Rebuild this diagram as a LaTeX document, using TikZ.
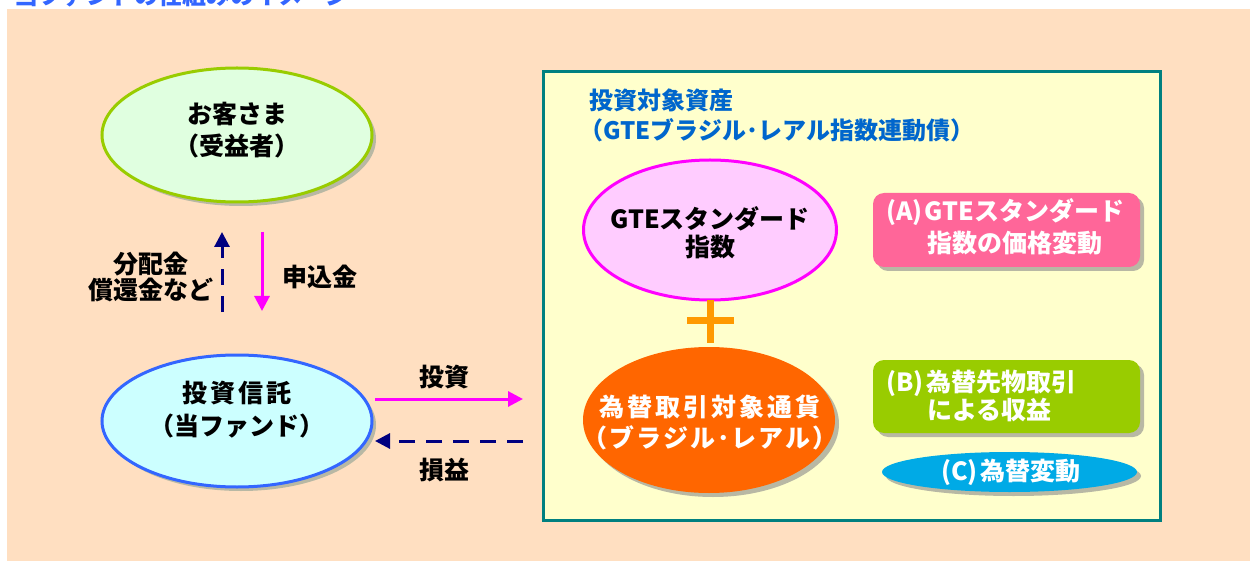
\documentclass[tikz,border=0pt]{standalone}
\usepackage{fontspec}
\setmainfont{Noto Sans CJK JP}
\usetikzlibrary{shapes.geometric,shadows,arrows.meta}
\definecolor{peach}{RGB}{255,223,193}
\definecolor{paleyellow}{RGB}{255,255,204}
\definecolor{framec}{RGB}{0,128,128}
\definecolor{custfill}{RGB}{224,255,224}
\definecolor{custline}{RGB}{153,204,0}
\definecolor{fundfill}{RGB}{204,255,255}
\definecolor{fundline}{RGB}{51,102,255}
\definecolor{gtefill}{RGB}{255,204,255}
\definecolor{gteline}{RGB}{255,0,255}
\definecolor{orangefill}{RGB}{255,102,0}
\definecolor{plusc}{RGB}{255,153,0}
\definecolor{boxA}{RGB}{255,102,153}
\definecolor{boxB}{RGB}{153,204,0}
\definecolor{boxC}{RGB}{0,170,230}
\definecolor{headblue}{RGB}{0,102,204}
\definecolor{titleblue}{RGB}{51,102,255}
\definecolor{navyc}{RGB}{0,0,128}
\definecolor{shadowc}{RGB}{184,184,164}
\newcommand{\spaced}[2]{{\addfontfeature{LetterSpace=#1}#2}}
\begin{document}
\begin{tikzpicture}[x=1pt,y=-1pt,
  shad/.style={drop shadow={shadow xshift=4pt,shadow yshift=-4pt,fill=shadowc,opacity=1}},
  ell/.style={ellipse,inner sep=0pt,line width=3pt},
  txt/.style={font=\bfseries\fontsize{25}{31}\selectfont,align=center,inner sep=0pt},
  wtxt/.style={txt,text=white},
  ltxt/.style={font=\bfseries\fontsize{25}{28}\selectfont,align=left,inner sep=0pt,text=white,anchor=west},
  rbox/.style={rectangle,rounded corners=11pt,inner sep=0pt,shad},
  solidarrow/.style={line width=3pt,draw=gteline,-{Triangle[length=15pt,width=15pt]}},
  dasharrow/.style={line width=3pt,draw=navyc,dash pattern=on 16pt off 11pt,-{Triangle[length=15pt,width=15pt]}}
]
\useasboundingbox (0,0) rectangle (1250,561);
\fill[white] (0,0) rectangle (1250,561);
\fill[peach] (7,9) rectangle (1250,561);
\begin{scope}
\clip (0,0) rectangle (1250,9);
\node[font=\bfseries\fontsize{24}{30}\selectfont,text=titleblue,anchor=base west,inner sep=0pt] (title) at (14,5) {当ファンドの仕組みのイメージ};
\end{scope}

% left side
\node[ell,shad,draw=custline,fill=custfill,minimum width=270pt,minimum height=134pt] (cust) at (237,135) {};
\node[txt,font=\bfseries\fontsize{25}{32}\selectfont] (custt) at (237,130) {お客さま\\（受益者）};
\node[ell,shad,draw=fundline,fill=fundfill,minimum width=270pt,minimum height=132pt] (fund) at (237,421) {};
\node[txt,font=\bfseries\fontsize{25}{33}\selectfont] (fundt) at (237,410) {\spaced{12}{投資信託}\\（当ファンド）};

\coordinate (u1) at (222,312);
\coordinate (u2) at (222,232);
\coordinate (d1) at (262,232);
\coordinate (d2) at (262,311);
\draw[dasharrow] (u1) -- (u2);
\draw[solidarrow] (d1) -- (d2);
\node[txt,font=\bfseries\fontsize{25}{26}\selectfont] (dist) at (151,277) {分配金\\償還金など};
\node[txt] (moushi) at (320,277) {申込金};

\coordinate (i1) at (375,399);
\coordinate (i2) at (523,399);
\coordinate (s1) at (523,441);
\coordinate (s2) at (375,441);
\draw[solidarrow] (i1) -- (i2);
\draw[dasharrow] (s1) -- (s2);
\node[txt] (toushi) at (444,377) {投資};
\node[txt] (soneki) at (444,470) {損益};

% right frame
\node[rectangle,draw=framec,line width=3pt,fill=paleyellow,minimum width=617pt,minimum height=449pt,inner sep=0pt] (frame) at (852,296) {};
\node[font=\bfseries\fontsize{24}{30}\selectfont,text=headblue,align=left,inner sep=0pt,anchor=west] (head) at (589,115.5) {投資対象資産\\\hspace*{-10pt}（GTEブラジル･レアル指数連動債）};

\node[ell,draw=gteline,fill=gtefill,minimum width=253pt,minimum height=140pt] (gte) at (710,230) {};
\node[txt,font=\bfseries\fontsize{25}{28}\selectfont] (gtet) at (710,233) {GTEスタンダード\\指数};
\draw[plusc,line width=7pt] (710,300) -- (710,343);
\draw[plusc,line width=7pt] (687,320) -- (734,320);
\node[ell,shad,fill=orangefill,line width=0pt,minimum width=252pt,minimum height=146pt] (cur) at (709,420) {};
\node[wtxt] (curt) at (710,422) {\spaced{12}{為替取引対象通貨}\\\spaced{8}{（ブラジル･レアル）}};

\node[rbox,fill=boxA,minimum width=267pt,minimum height=74pt] (A) at (1006.5,230) {};
\node[ltxt] (A1) at (886,212) {(A)\hspace{2pt}GTEスタンダード};
\node[ltxt] (A2) at (927,243) {指数の価格変動};
\node[rbox,fill=boxB,minimum width=267pt,minimum height=73pt] (B) at (1006.5,396.5) {};
\node[ltxt] (B1) at (886,383) {(B)\hspace{3pt}為替先物取引};
\node[ltxt] (B2) at (927,410) {による収益};
\node[ellipse,shad,fill=boxC,inner sep=0pt,minimum width=255pt,minimum height=40pt] (C) at (1009.5,472) {};
\node[wtxt] (Ct) at (1011,472) {(C)\hspace{3pt}為替変動};
\end{tikzpicture}
\end{document}
